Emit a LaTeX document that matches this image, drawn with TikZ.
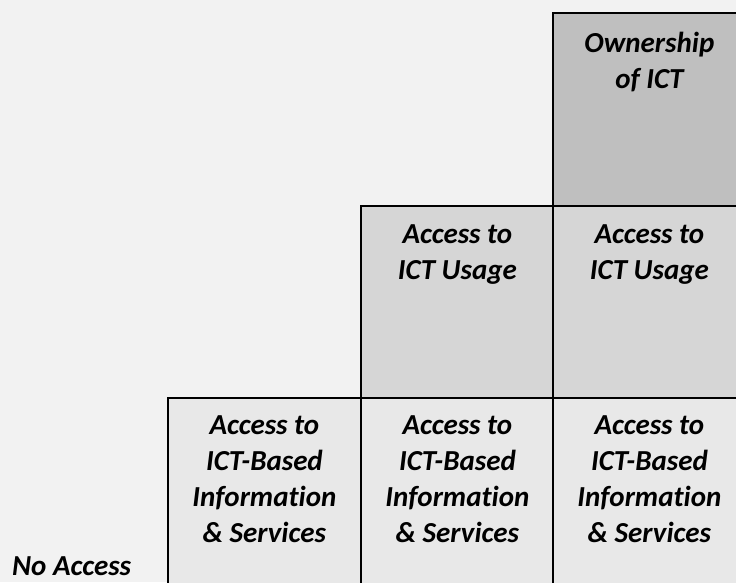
\documentclass[tikz,border=0pt]{standalone}
\usepackage{fontspec}
\setmainfont[Ligatures={NoCommon}]{Carlito}
\definecolor{bgc}{HTML}{F2F2F2}
\definecolor{own}{HTML}{BFBFBF}
\definecolor{mid}{HTML}{D6D6D6}
\definecolor{low}{HTML}{E8E8E8}
\begin{document}
\begin{tikzpicture}[x=1pt,y=-1pt,
  cell/.style={draw=black, line width=1.8pt, minimum width=193pt, inner sep=0pt, anchor=north west},
  lbl/.style={anchor=north, align=center, font=\fontsize{29}{36}\selectfont\bfseries\itshape, inner sep=0pt, text=black}]
\fill[bgc] (0,0) rectangle (736,582);
\useasboundingbox (0,0) rectangle (736,582);
\clip (0,0) rectangle (736,582);
\node[cell, fill=own, minimum height=193pt] (own) at (552,12) {};
\node[cell, fill=mid, minimum height=192pt] (u1) at (360,205) {};
\node[cell, fill=mid, minimum height=192pt] (u2) at (552,205) {};
\node[cell, fill=low, minimum height=200pt] (b1) at (167,397) {};
\node[cell, fill=low, minimum height=200pt] (b2) at (360,397) {};
\node[cell, fill=low, minimum height=200pt] (b3) at (552,397) {};
\node[lbl] (townr) at ([yshift=-16pt]own.north) {\rule{0pt}{24pt}Ownership\\of ICT};
\node[lbl] (tu1) at ([yshift=-14pt]u1.north) {\rule{0pt}{24pt}Access to\\ICT Usage};
\node[lbl] (tu2) at ([yshift=-14pt]u2.north) {\rule{0pt}{24pt}Access to\\ICT Usage};
\node[lbl] (tb1) at ([yshift=-13pt]b1.north) {\rule{0pt}{24pt}Access to\\ICT-Based\\Information\\\& Services};
\node[lbl] (tb2) at ([yshift=-13pt]b2.north) {\rule{0pt}{24pt}Access to\\ICT-Based\\Information\\\& Services};
\node[lbl] (tb3) at ([yshift=-13pt]b3.north) {\rule{0pt}{24pt}Access to\\ICT-Based\\Information\\\& Services};
\node[anchor=base west, inner sep=0pt, font=\fontsize{29}{36}\selectfont\bfseries\itshape, text=black] (none) at (12,575) {No Access};
\end{tikzpicture}
\end{document}
